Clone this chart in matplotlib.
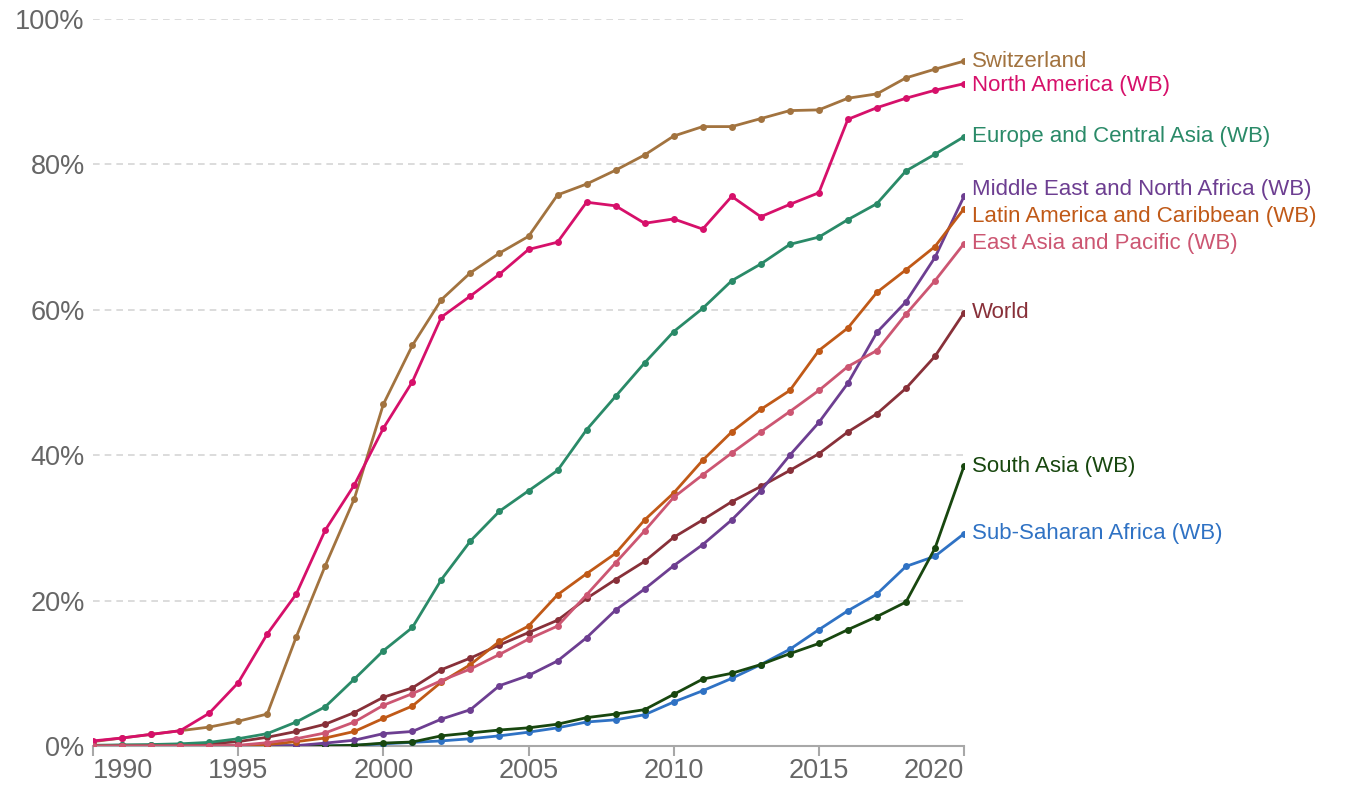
import matplotlib
matplotlib.use("Agg")
import matplotlib.pyplot as plt
import numpy as np

years = list(range(1990, 2021))

switzerland = [0.6, 1.1, 1.6, 2.1, 2.6, 3.4, 4.4, 15.0, 24.8, 34.0, 47.0, 55.1, 61.4, 65.1, 67.8, 70.1,
               75.8, 77.3, 79.2, 81.3, 83.9, 85.2, 85.2, 86.3, 87.4, 87.5, 89.1, 89.7, 91.9, 93.1, 94.2]
north_america = [0.7, 1.1, 1.6, 2.1, 4.5, 8.7, 15.4, 20.9, 29.7, 35.9, 43.7, 50.1, 59.0, 61.9, 64.9, 68.3,
                 69.3, 74.8, 74.3, 71.9, 72.5, 71.1, 75.6, 72.8, 74.5, 76.1, 86.2, 87.8, 89.1, 90.2, 91.1]
europe_ca = [0.1, 0.15, 0.2, 0.3, 0.5, 1.0, 1.7, 3.3, 5.4, 9.2, 13.1, 16.3, 22.9, 28.2, 32.3, 35.1,
             37.9, 43.5, 48.1, 52.7, 57.0, 60.2, 64.0, 66.3, 69.0, 70.0, 72.4, 74.6, 79.1, 81.4, 83.8]
mena = [0.0, 0.0, 0.0, 0.0, 0.0, 0.0, 0.0, 0.05, 0.4, 0.8, 1.7, 2.0, 3.7, 5.0, 8.3, 9.7,
        11.7, 14.9, 18.7, 21.6, 24.8, 27.7, 31.1, 35.1, 40.0, 44.5, 49.9, 56.9, 61.1, 67.2, 75.6]
latin_am = [0.0, 0.0, 0.0, 0.0, 0.0, 0.05, 0.2, 0.6, 1.1, 2.0, 3.8, 5.5, 8.8, 11.2, 14.4, 16.5,
            20.8, 23.7, 26.5, 31.1, 34.8, 39.3, 43.2, 46.3, 48.9, 54.4, 57.5, 62.4, 65.5, 68.7, 73.9]
east_asia = [0.0, 0.0, 0.0, 0.0, 0.0, 0.1, 0.45, 1.0, 1.8, 3.3, 5.6, 7.2, 9.0, 10.6, 12.6, 14.7,
             16.5, 20.8, 25.2, 29.6, 34.2, 37.3, 40.3, 43.2, 46.0, 48.9, 52.2, 54.4, 59.4, 64.0, 69.1]
world = [0.05, 0.1, 0.1, 0.2, 0.3, 0.6, 1.2, 2.0, 3.0, 4.6, 6.7, 8.0, 10.5, 12.1, 13.9, 15.6,
         17.3, 20.3, 22.9, 25.4, 28.7, 31.1, 33.6, 35.7, 37.9, 40.2, 43.2, 45.7, 49.2, 53.6, 59.6]
south_asia = [0.0, 0.0, 0.0, 0.0, 0.0, 0.0, 0.0, 0.0, 0.0, 0.1, 0.4, 0.55, 1.4, 1.8, 2.2, 2.5,
              3.0, 3.9, 4.4, 5.0, 7.1, 9.2, 10.0, 11.2, 12.7, 14.1, 16.0, 17.8, 19.8, 27.2, 38.5]
ss_africa = [0.0, 0.0, 0.0, 0.0, 0.0, 0.0, 0.0, 0.0, 0.0, 0.1, 0.3, 0.5, 0.7, 1.0, 1.4, 1.9,
             2.5, 3.3, 3.6, 4.3, 6.05, 7.6, 9.3, 11.2, 13.3, 16.0, 18.6, 20.9, 24.7, 26.1, 29.2]

names = ["Switzerland", "North America (WB)", "Europe and Central Asia (WB)",
         "Middle East and North Africa (WB)", "Latin America and Caribbean (WB)",
         "East Asia and Pacific (WB)", "World", "South Asia (WB)", "Sub-Saharan Africa (WB)"]
series = [switzerland, north_america, europe_ca, mena, latin_am, east_asia, world, south_asia, ss_africa]
colors = ["#a2733f", "#d6106a", "#2a8a68", "#6d3e91", "#c05917", "#cc5672", "#883039", "#18470f", "#2f72c4"]
label_y = [94.2, 90.9, 83.8, 76.5, 72.9, 69.1, 59.6, 38.5, 29.2]

fig = plt.figure(figsize=(13.47, 7.85), dpi=100)
ax = fig.add_axes([93/1347, 39/785, (964-93)/1347, (746-19)/785])

font = "Liberation Sans"
for yv in [20, 40, 60, 80, 100]:
    ax.axhline(yv, color="#d6d6d6", lw=1.2, ls=(0, (4, 3)), zorder=0)

order = [8, 7, 6, 2, 3, 4, 0, 1, 5]
for i in order:
    ax.plot(years, series[i], color=colors[i], lw=2.0, marker="o", ms=5,
            markeredgewidth=0, zorder=3 + order.index(i))

for i in range(len(names)):
    ax.annotate(names[i], xy=(years[-1], label_y[i]), xytext=(6, 0),
                textcoords="offset points", va="center", ha="left",
                color=colors[i], fontsize=16, family=font, annotation_clip=False)

ax.set_xlim(1990, 2020)
ax.set_ylim(0, 100)
for s in ["top", "right", "left"]:
    ax.spines[s].set_visible(False)
ax.spines["bottom"].set_color("#a8a8a8")
ax.spines["bottom"].set_linewidth(1.5)
ax.spines["bottom"].set_zorder(2)

ax.set_yticks([0, 20, 40, 60, 80, 100])
ax.set_yticklabels(["0%", "20%", "40%", "60%", "80%", "100%"])
ax.tick_params(axis="y", length=0, pad=6, labelsize=19.5, labelcolor="#666666")
xt = [1990, 1995, 2000, 2005, 2010, 2015, 2020]
ax.set_xticks(xt)
ax.set_xticklabels([str(v) for v in xt])
ax.tick_params(axis="x", length=7, width=1.5, color="#a8a8a8", pad=2,
               labelsize=19.5, labelcolor="#666666")
for lab in ax.get_xticklabels() + ax.get_yticklabels():
    lab.set_family(font)
xl = ax.get_xticklabels()
xl[0].set_ha("left")
xl[-1].set_ha("right")

fig.savefig("out.png", dpi=100, facecolor="white")
